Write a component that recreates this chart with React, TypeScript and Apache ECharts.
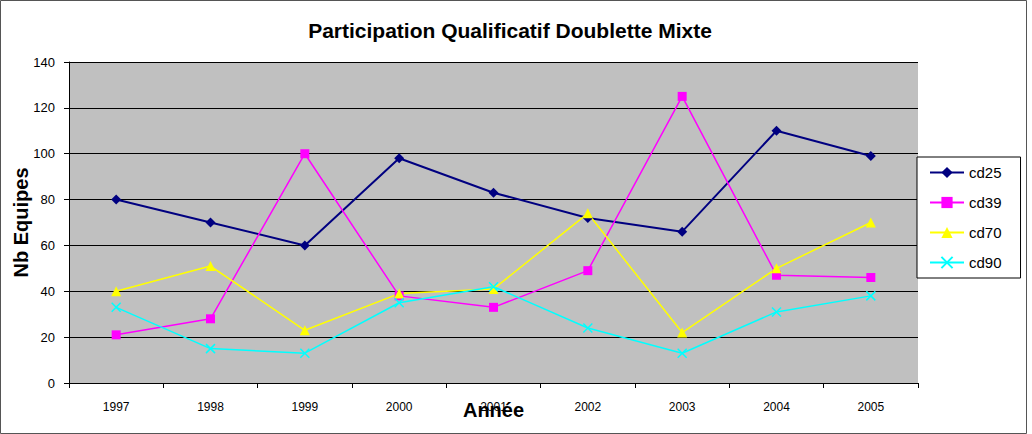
import React, { useEffect, useRef } from "react";
import * as echarts from "echarts";

const categories = ["1997", "1998", "1999", "2000", "2001", "2002", "2003", "2004", "2005"];
const cd25 = [80, 70, 60, 98, 83, 72, 66, 110, 99];
const cd39 = [21, 28, 100, 38, 33, 49, 125, 47, 46];
const cd70 = [40, 51, 23, 39, 41, 74, 22, 50, 70];
const cd90 = [33, 15, 13, 35, 42, 24, 13, 31, 38];

if (typeof document !== "undefined") {
  document.body.style.margin = "0";
  document.body.style.overflow = "hidden";
}

export default function App() {
  const ref = useRef<HTMLDivElement>(null);
  useEffect(() => {
    const chart = echarts.init(ref.current!, null, { renderer: "svg" });
    const font = "Liberation Sans";
    chart.setOption({
      animation: false,
      backgroundColor: "#ffffff",
      textStyle: { fontFamily: font },
      title: {
        text: "Participation Qualificatif Doublette Mixte",
        left: 510,
        textAlign: "center",
        top: 20,
        padding: 0,
        textStyle: { fontSize: 21, fontWeight: "bold", color: "#000", fontFamily: font },
      },
      graphic: [
        {
          type: "rect",
          shape: { x: 0.5, y: 0.5, width: 1026, height: 433 },
          style: { fill: "none", stroke: "#555", lineWidth: 1 },
          silent: true,
        },
      ],
      legend: {
        orient: "vertical",
        left: 917,
        top: 157,
        padding: [8, 19, 8, 12],
        itemGap: 15,
        itemWidth: 34,
        itemHeight: 14,
        borderColor: "#000",
        borderWidth: 1,
        backgroundColor: "#fff",
        borderRadius: 0,
        textStyle: { fontSize: 15, color: "#000", fontFamily: font },
        data: ["cd25", "cd39", "cd70", "cd90"],
      },
      grid: {
        left: 69,
        right: 114,
        top: 62,
        bottom: 51,
        outerBoundsMode: "none",
        containLabel: false,
        show: true,
        backgroundColor: "#C0C0C0",
        borderWidth: 0,
      },
      xAxis: {
        type: "category",
        data: categories,
        boundaryGap: true,
        name: "Année",
        nameLocation: "middle",
        nameGap: 17,
        nameMoveOverlap: false,
        nameTextStyle: { fontSize: 20, fontWeight: "bold", color: "#000", fontFamily: font },
        axisLine: { lineStyle: { color: "#000", width: 1 } },
        axisTick: { show: true, length: 5, lineStyle: { color: "#000" }, alignWithLabel: false },
        axisLabel: { fontSize: 12, color: "#000", margin: 18, fontFamily: font },
      },
      yAxis: {
        type: "value",
        min: 0,
        max: 140,
        interval: 20,
        name: "Nb Equipes",
        nameLocation: "middle",
        nameGap: 38,
        nameMoveOverlap: false,
        nameTextStyle: { fontSize: 20, fontWeight: "bold", color: "#000", fontFamily: font },
        axisLine: { show: true, lineStyle: { color: "#000", width: 1 } },
        axisTick: { show: true, length: 5, lineStyle: { color: "#000" } },
        axisLabel: { fontSize: 13, color: "#000", margin: 14, fontFamily: font },
        splitLine: { lineStyle: { color: "#000", width: 1 } },
      },
      series: [
        {
          name: "cd25",
          type: "line",
          data: cd25,
          symbol: "diamond",
          symbolSize: 10,
          lineStyle: { color: "#000080", width: 2 },
          itemStyle: { color: "#000080" },
        },
        {
          name: "cd39",
          type: "line",
          data: cd39,
          symbol: "rect",
          symbolSize: 9,
          lineStyle: { color: "#FF00FF", width: 1.5 },
          itemStyle: { color: "#FF00FF" },
        },
        {
          name: "cd70",
          type: "line",
          data: cd70,
          symbol: "triangle",
          symbolSize: 10,
          lineStyle: { color: "#FFFF00", width: 1.5 },
          itemStyle: { color: "#FFFF00" },
        },
        {
          name: "cd90",
          type: "line",
          data: cd90,
          symbol: "path://M0 0L10 10M10 0L0 10",
          symbolSize: 9,
          lineStyle: { color: "#00FFFF", width: 1.5 },
          itemStyle: { color: "#00FFFF", borderColor: "#00FFFF", borderWidth: 1.5 },
        },
      ],
    });
    return () => chart.dispose();
  }, []);
  return <div ref={ref} style={{ width: 1032, height: 434 }} />;
}
